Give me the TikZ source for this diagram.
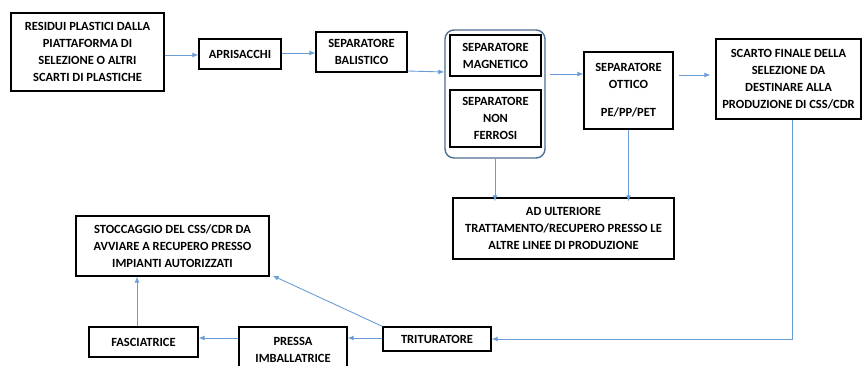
\documentclass[tikz,border=0pt]{standalone}
\usepackage{fontspec}
\setmainfont{Carlito}
\usetikzlibrary{arrows.meta}
\definecolor{arrowblue}{HTML}{6A9DD6}
\definecolor{grpblue}{HTML}{4F6F92}
\tikzset{
  box/.style={draw=black, line width=1.3pt, align=center, inner sep=0pt,
    font=\fontsize{12.5}{17}\selectfont\bfseries},
  flow/.style={draw=arrowblue, line width=0.9pt, -{Latex[length=6pt,width=5pt]}},
}
\newcommand{\bx}[6]{% name, x1,y1,x2,y2, text
  \node[box, minimum width={(#4-#2)*1pt}, minimum height={(#5-#3)*1pt}] (#1) at ({(#2+#4)/2},{(#3+#5)/2}) {#6};}
\begin{document}
\begin{tikzpicture}[x=1pt,y=-1pt]
\clip (0,0) rectangle (862,365);
\useasboundingbox (0,0) rectangle (862,365);
\bx{res}{11}{13}{164}{91}{RESIDUI PLASTICI DALLA\\PIATTAFORMA DI\\SELEZIONE O ALTRI\\SCARTI DI PLASTICHE}
\bx{apr}{199}{39}{281}{69}{APRISACCHI}
\bx{bal}{316}{32}{407}{72}{SEPARATORE\\BALISTICO}
\node[draw=grpblue, line width=1.4pt, rounded corners=9pt, minimum width=100pt, minimum height=128pt, inner sep=0pt] (grp) at (495,94) {};
\bx{mag}{450}{35}{541}{76}{SEPARATORE\\MAGNETICO}
\bx{nf}{450}{90}{541}{147}{SEPARATORE\\NON\\FERROSI}
\bx{ott}{584}{52}{673}{129}{SEPARATORE\\OTTICO\\[11pt]PE/PP/PET}
\bx{sca}{716}{39}{861}{119}{SCARTO FINALE DELLA\\SELEZIONE DA\\DESTINARE ALLA\\PRODUZIONE DI CSS/CDR}
\bx{adu}{453}{198}{674}{259}{AD ULTERIORE\\TRATTAMENTO/RECUPERO PRESSO LE\\ALTRE LINEE DI PRODUZIONE}
\bx{sto}{76}{216}{269}{276}{STOCCAGGIO DEL CSS/CDR DA\\AVVIARE A RECUPERO PRESSO\\IMPIANTI AUTORIZZATI}
\bx{tri}{383}{327}{491}{351}{TRITURATORE}
\bx{fas}{89}{327}{198}{357}{FASCIATRICE}
\bx{pre}{239}{327}{347}{373}{PRESSA\\IMBALLATRICE}
\coordinate (corner) at (792,339);
% top flow
\draw[flow] (res.east |- 0,55) -- (apr.west |- 0,55);
\draw[flow] (apr.east |- 0,53) -- (bal.west |- 0,53);
\draw[flow] (bal.east |- 0,71) -- (grp.west |- 0,72);
\draw[flow] ([xshift=4pt]grp.east |- 0,74) -- (ott.west |- 0,74);
\draw[flow] ([xshift=5pt]ott.east |- 0,75) -- ([xshift=-5pt]sca.west |- 0,75);
% down flows
\draw[flow] (grp.south) -- ([yshift=-4pt]grp.south |- adu.north);
\draw[flow] (ott.south) -- ([yshift=-4pt]ott.south |- adu.north);
% scarto to trituratore
\draw[flow] (sca.south -| corner) -- (corner) -- (tri.east |- corner);
% bottom flow
\draw[flow] (tri.west |- 0,338) -- (pre.east |- 0,338);
\draw[flow] (pre.west |- 0,338) -- (fas.east |- 0,338);
\draw[flow] (fas.north -| 137,0) -- (sto.south -| 137,0);
\draw[flow] (tri.north west) -- ([xshift=3pt,yshift=1pt]sto.south east);
\end{tikzpicture}
\end{document}
